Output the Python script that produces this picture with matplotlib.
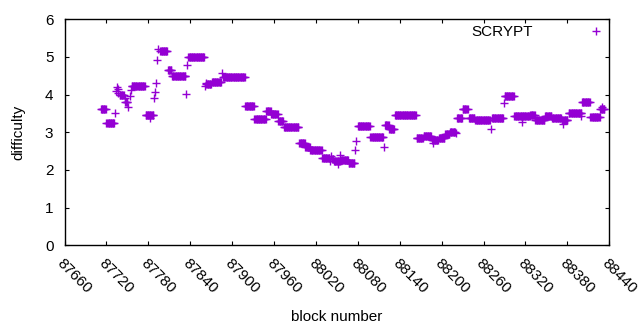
import matplotlib
matplotlib.use("Agg")
import matplotlib.pyplot as plt
import numpy as np

# difficulty read off the plot as runs of blocks with the same value
# (first block, last block, difficulty); single blocks have first == last
seg_first = [87712, 87720, 87733, 87734, 87735, 87736, 87737, 87739, 87746, 87747,
             87751, 87754, 87755, 87756, 87776, 87782, 87788, 87790, 87791, 87793,
             87794, 87797, 87808, 87814, 87834, 87836, 87837, 87861, 87862, 87863,
             87871, 87886, 87887, 87919, 87932, 87949, 87956, 87966, 87974, 87996,
             88005, 88012, 88029, 88040, 88042, 88043, 88046, 88051, 88055, 88056,
             88067, 88076, 88078, 88080, 88098, 88117, 88119, 88125, 88133, 88164,
             88174, 88186, 88187, 88196, 88205, 88212, 88220, 88222, 88230, 88239,
             88248, 88270, 88272, 88289, 88290, 88304, 88315, 88327, 88334, 88348,
             88358, 88372, 88374, 88382, 88399, 88401, 88413, 88427, 88429]
seg_last = [87719, 87731, 87733, 87734, 87735, 87736, 87737, 87745, 87746, 87750,
            87751, 87754, 87755, 87775, 87787, 87782, 87788, 87790, 87791, 87793,
            87794, 87807, 87813, 87833, 87834, 87836, 87860, 87861, 87862, 87870,
            87884, 87886, 87918, 87931, 87948, 87955, 87965, 87973, 87995, 88004,
            88011, 88028, 88039, 88040, 88042, 88045, 88054, 88051, 88055, 88066,
            88075, 88076, 88078, 88097, 88116, 88117, 88124, 88132, 88163, 88173,
            88185, 88195, 88187, 88204, 88211, 88219, 88220, 88229, 88237, 88247,
            88269, 88270, 88288, 88289, 88303, 88326, 88315, 88333, 88347, 88357,
            88371, 88380, 88374, 88400, 88399, 88412, 88426, 88433, 88429]
seg_diff = [3.62, 3.25, 3.51, 4.10, 4.19, 4.15, 4.05, 3.99, 3.92, 3.80,
            3.67, 3.96, 4.12, 4.23, 3.45, 3.37, 3.92, 4.07, 4.32, 4.92,
            5.22, 5.15, 4.64, 4.49, 4.01, 4.78, 5.01, 4.23, 4.32, 4.27,
            4.33, 4.56, 4.46, 3.69, 3.35, 3.56, 3.48, 3.29, 3.14, 2.71,
            2.61, 2.53, 2.32, 2.25, 2.38, 2.30, 2.25, 2.16, 2.41, 2.27,
            2.19, 2.53, 2.76, 3.16, 2.87, 2.60, 3.19, 3.08, 3.45, 2.85,
            2.91, 2.79, 2.71, 2.86, 2.95, 3.02, 2.99, 3.38, 3.61, 3.39,
            3.32, 3.10, 3.38, 3.79, 3.96, 3.43, 3.28, 3.46, 3.32, 3.43,
            3.39, 3.32, 3.22, 3.52, 3.44, 3.81, 3.40, 3.63, 3.68]

x_ticks = list(range(87660, 88441, 60))

blocks = np.concatenate([np.arange(a, b + 1) for a, b in zip(seg_first, seg_last)])
diffs = np.concatenate([np.full(b - a + 1, d) for a, b, d in zip(seg_first, seg_last, seg_diff)])

plt.rcParams['font.family'] = ['Liberation Sans', 'DejaVu Sans']
plt.rcParams['font.size'] = 11

fig = plt.figure(figsize=(6.4, 3.3), dpi=100)
ax = fig.add_axes([0.1008, 0.2564, 0.8512, 0.6854])

ax.plot(blocks, diffs, linestyle='none', marker='+', color='#9400d3',
        markersize=5.2, markeredgewidth=1.0, label='SCRYPT')

ax.set_xlim(87660, 88440)
ax.set_ylim(0, 6)
ax.set_xticks(x_ticks)
ax.set_yticks(range(0, 7))
ax.tick_params(direction='in', length=3, width=0.8, top=True, right=True, colors='black')
plt.setp(ax.get_xticklabels(), rotation=-45, ha='left', va='top', rotation_mode='anchor')
ax.tick_params(axis='x', pad=8)
ax.tick_params(axis='y', pad=8)
for s in ax.spines.values():
    s.set_linewidth(1.0)

ax.set_xlabel('block number', labelpad=10)
ax.set_ylabel('difficulty', labelpad=14)

ax.legend(loc='upper right', markerfirst=False, frameon=False, handlelength=1.0,
          handletextpad=3.6, borderaxespad=0.0)

fig.savefig('out.png', dpi=100)
